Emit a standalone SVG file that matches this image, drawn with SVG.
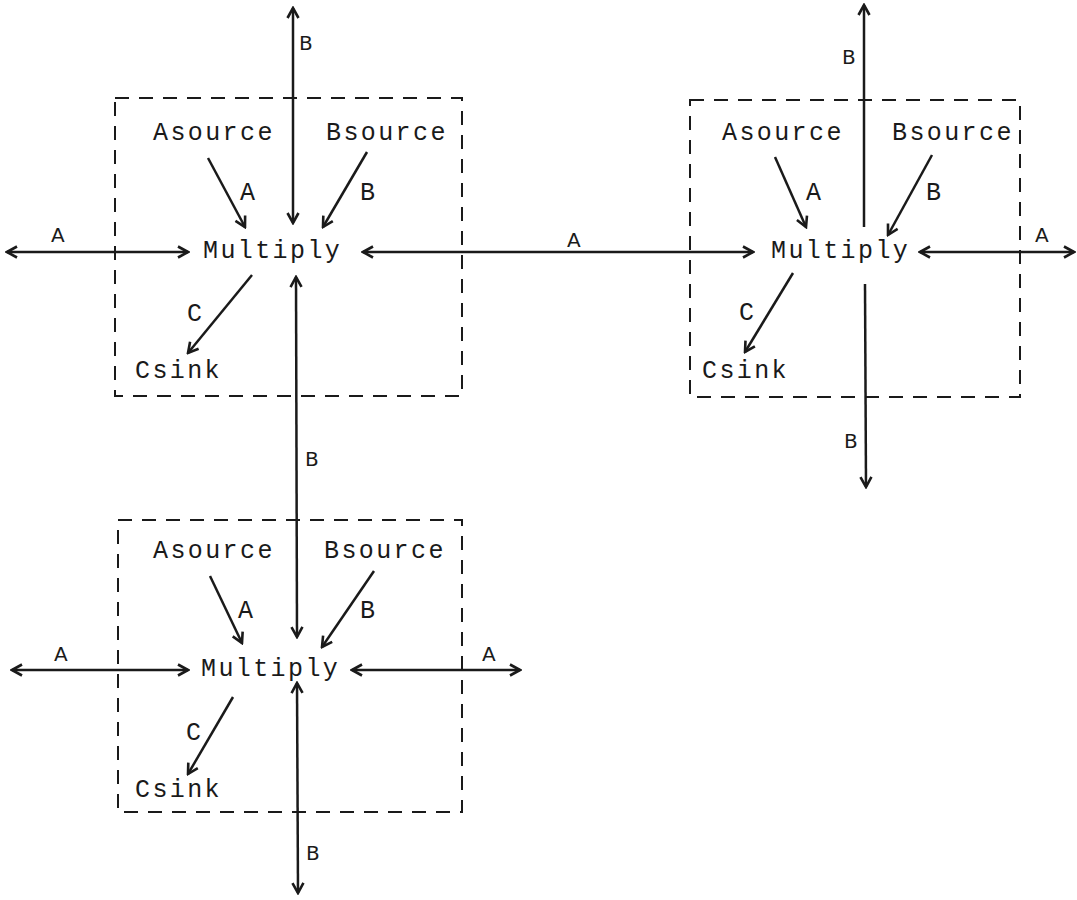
<svg xmlns="http://www.w3.org/2000/svg" width="1077" height="900" viewBox="0 0 1077 900">
<style>
.t{font-family:"Liberation Mono","DejaVu Sans Mono",monospace;font-size:25px;letter-spacing:2.4px;fill:#1a1a1a}
.h{font-family:"DejaVu Sans","Liberation Sans",sans-serif;font-size:20px;fill:#1a1a1a}
.box{fill:none;stroke:#1a1a1a;stroke-width:2;stroke-dasharray:14 10}
.c{stroke:#1a1a1a;stroke-width:2.5;fill:none}
</style>
<defs>
<marker id="ah" viewBox="0 0 14 14" refX="12" refY="7" markerWidth="14" markerHeight="14" orient="auto-start-reverse" markerUnits="userSpaceOnUse">
<path d="M2,1.5 L12,7 L2,12.5" fill="none" stroke="#1a1a1a" stroke-width="2.6" stroke-linejoin="miter"/>
</marker>
</defs>
<rect width="1077" height="900" fill="#ffffff"/>

<g id="node1">
<rect class="box" x="115" y="98" width="347" height="298"/>
<text class="t" x="153" y="140">Asource</text>
<text class="t" x="326" y="140">Bsource</text>
<text class="t" x="203" y="258">Multiply</text>
<text class="t" x="135" y="378">Csink</text>
<text class="t" x="240" y="200">A</text>
<text class="t" x="360" y="200">B</text>
<text class="t" x="187" y="321">C</text>
</g>

<g id="node2">
<rect class="box" x="690" y="100" width="330" height="297"/>
<text class="t" x="722" y="140">Asource</text>
<text class="t" x="892" y="140">Bsource</text>
<text class="t" x="771" y="258">Multiply</text>
<text class="t" x="702" y="378">Csink</text>
<text class="t" x="806" y="200">A</text>
<text class="t" x="926" y="200">B</text>
<text class="t" x="739" y="320">C</text>
</g>

<g id="node3">
<rect class="box" x="118" y="520" width="344" height="292"/>
<text class="t" x="153" y="558">Asource</text>
<text class="t" x="324" y="558">Bsource</text>
<text class="t" x="201" y="676">Multiply</text>
<text class="t" x="135" y="797">Csink</text>
<text class="t" x="238" y="618">A</text>
<text class="t" x="360" y="618">B</text>
<text class="t" x="186" y="740">C</text>
</g>

<g id="connectors">
<line class="c" x1="208" y1="158" x2="245" y2="227" marker-end="url(#ah)"/>
<line class="c" x1="367" y1="152" x2="323" y2="227" marker-end="url(#ah)"/>
<line class="c" x1="252" y1="275" x2="188" y2="353" marker-end="url(#ah)"/>
<line class="c" x1="775" y1="157" x2="806" y2="227" marker-end="url(#ah)"/>
<line class="c" x1="932" y1="155" x2="888" y2="235" marker-end="url(#ah)"/>
<line class="c" x1="793" y1="273" x2="745" y2="352" marker-end="url(#ah)"/>
<line class="c" x1="210" y1="576" x2="242" y2="643" marker-end="url(#ah)"/>
<line class="c" x1="374" y1="571" x2="322" y2="647" marker-end="url(#ah)"/>
<line class="c" x1="233" y1="697" x2="188" y2="774" marker-end="url(#ah)"/>

<line class="c" x1="7" y1="252" x2="188" y2="252" marker-start="url(#ah)" marker-end="url(#ah)"/>
<line class="c" x1="363" y1="252" x2="753" y2="252" marker-start="url(#ah)" marker-end="url(#ah)"/>
<line class="c" x1="920" y1="252" x2="1074" y2="252" marker-start="url(#ah)" marker-end="url(#ah)"/>
<line class="c" x1="12" y1="670" x2="188" y2="670" marker-start="url(#ah)" marker-end="url(#ah)"/>
<line class="c" x1="352" y1="670" x2="520" y2="670" marker-start="url(#ah)" marker-end="url(#ah)"/>
<line class="c" x1="293" y1="8" x2="293" y2="223" marker-start="url(#ah)" marker-end="url(#ah)"/>
<line class="c" x1="296" y1="277" x2="297" y2="637" marker-start="url(#ah)" marker-end="url(#ah)"/>
<line class="c" x1="297" y1="683" x2="298" y2="893" marker-start="url(#ah)" marker-end="url(#ah)"/>
<line class="c" x1="864" y1="5" x2="864" y2="227" marker-start="url(#ah)"/>
<line class="c" x1="865" y1="284" x2="866" y2="487" marker-end="url(#ah)"/>

<text class="h" x="51" y="242">A</text>
<text class="h" x="567" y="247">A</text>
<text class="h" x="1035" y="242">A</text>
<text class="h" x="54" y="661">A</text>
<text class="h" x="482" y="661">A</text>
<text class="h" x="299" y="50">B</text>
<text class="h" x="842" y="64">B</text>
<text class="h" x="305" y="466">B</text>
<text class="h" x="844" y="448">B</text>
<text class="h" x="306" y="860">B</text>
</g>
</svg>
